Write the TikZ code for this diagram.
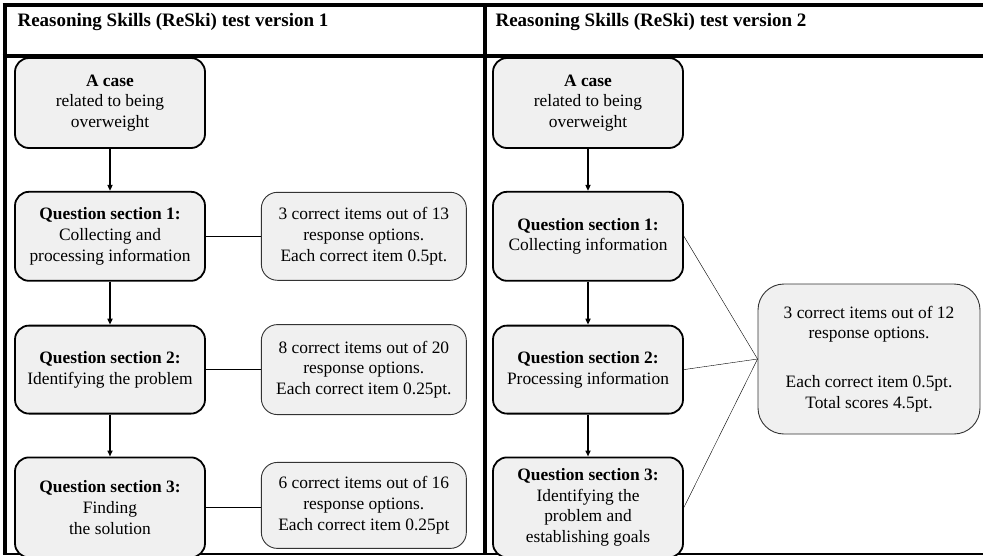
\documentclass[tikz,border=0pt]{standalone}
\usepackage{fontspec}
\setmainfont{Liberation Serif}
\usetikzlibrary{arrows.meta, positioning}

\begin{document}
\begin{tikzpicture}[
        x=1pt, y=-1pt,
        node distance=42pt,
        font=\fontsize{17.4}{20.7}\selectfont,
        stage/.style={rectangle, draw=black, line width=1.8pt, fill=gray!12, rounded corners=14pt,
                      minimum width=190pt, minimum height=89pt, align=center},
        score/.style={rectangle, draw=black!80, line width=0.9pt, fill=gray!12, rounded corners=16pt,
                      minimum width=205pt, minimum height=88pt, align=center},
        title/.style={anchor=base west, font=\fontsize{19}{22}\selectfont\bfseries},
        frame/.style={line width=4pt},
        arrow/.style={line width=2pt, -{Triangle[length=6pt, width=5pt]}},
        link/.style={line width=1.2pt}
    ]
        \useasboundingbox (0,0) rectangle (983,555);

        % table frame
        \draw[frame] (2.7,5) -- (983,5);
        \draw[frame] (2.7,56) -- (983,56);
        \draw[frame] (4.7,3) -- (4.7,554);
        \draw[frame] (484.7,3) -- (484.7,555);
        \draw[line width=1.6pt] (2.7,554) -- (983,554);

        \node[title] (titleone) at (14,26) {Reasoning Skills (ReSki) test version 1};
        \node[title] (titletwo) at (492,26) {Reasoning Skills (ReSki) test version 2};

        % version 1
        \node[stage, minimum height=90pt] (caseone) at (110,103) {\textbf{A case}\\related to being\\overweight};
        \node[stage, below=of caseone] (qoneA) {\textbf{Question section 1:}\\Collecting and\\processing information};
        \node[stage, below=43pt of qoneA, minimum height=88pt] (qoneB) {\textbf{Question section 2:}\\Identifying the problem};
        \node[stage, below=of qoneB, minimum height=100pt] (qoneC) {\textbf{Question section 3:}\\Finding\\the solution};

        \node[score, right=55pt of qoneA] (sA) {3 correct items out of 13\\response options.\\Each correct item 0.5pt.};
        \node[score, right=55pt of qoneB, minimum height=90pt] (sB) {8 correct items out of 20\\response options.\\Each correct item 0.25pt.};
        \node[score, right=55pt of qoneC, yshift=2pt, minimum height=86pt] (sC) {6 correct items out of 16\\response options.\\Each correct item 0.25pt};

        \draw[arrow] (caseone) -- (qoneA);
        \draw[arrow] (qoneA) -- (qoneB);
        \draw[arrow] (qoneB) -- (qoneC);
        \draw[link] (qoneA) -- (sA);
        \draw[link] (qoneB) -- (sB);
        \draw[link] (qoneC.east) -- (sC.west |- qoneC.east);

        % version 2
        \node[stage, minimum height=90pt] (casetwo) at (588,103) {\textbf{A case}\\related to being\\overweight};
        \node[stage, below=of casetwo] (qtwoA) {\textbf{Question section 1:}\\Collecting information};
        \node[stage, below=43pt of qtwoA, minimum height=88pt] (qtwoB) {\textbf{Question section 2:}\\Processing information};
        \node[stage, below=of qtwoB, minimum height=100pt] (qtwoC) {\textbf{Question section 3:}\\Identifying the\\problem and\\establishing goals};

        \node[score, rounded corners=26pt, minimum width=222pt, minimum height=150pt] (stotal) at (869,359)
            {3 correct items out of 12\\response options.\\[28pt]Each correct item 0.5pt.\\Total scores 4.5pt.};

        \draw[arrow] (casetwo) -- (qtwoA);
        \draw[arrow] (qtwoA) -- (qtwoB);
        \draw[arrow] (qtwoB) -- (qtwoC);
        \draw[thin] (qtwoA.east) -- (stotal.west);
        \draw[thin] (qtwoB.east) -- (stotal.west);
        \draw[thin] (qtwoC.east) -- (stotal.west);
    \end{tikzpicture}
\end{document}
